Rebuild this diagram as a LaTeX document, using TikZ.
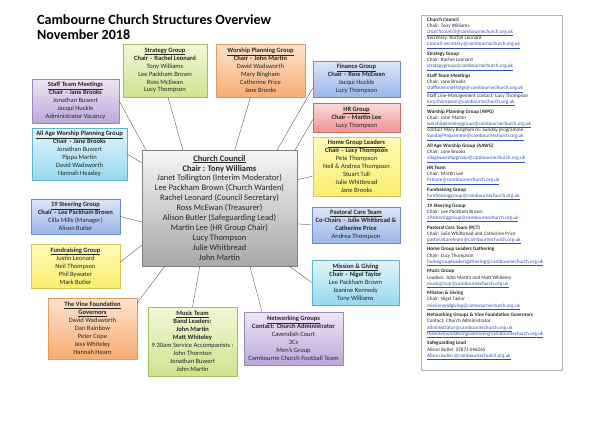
\documentclass[tikz,border=0pt]{standalone}
\usepackage{fontspec}
\setmainfont{Carlito}
\usetikzlibrary{shadows, calc}

% box colours (top / bottom / border)
\definecolor{greenT}{HTML}{F1F8D6}\definecolor{greenB}{HTML}{CFE38E}\definecolor{greenD}{HTML}{A3BE62}
\definecolor{orangeT}{HTML}{FDE3CD}\definecolor{orangeB}{HTML}{F8AC72}\definecolor{orangeD}{HTML}{E8975A}
\definecolor{purpleT}{HTML}{EEE6F6}\definecolor{purpleB}{HTML}{BCA8DA}\definecolor{purpleD}{HTML}{9A84BC}
\definecolor{cyanT}{HTML}{E2F5FB}\definecolor{cyanB}{HTML}{96D8EF}\definecolor{cyanD}{HTML}{62B3CC}
\definecolor{blueT}{HTML}{DCE6F8}\definecolor{blueB}{HTML}{9BB6EA}\definecolor{blueD}{HTML}{6C8DC6}
\definecolor{yellowT}{HTML}{FFFBB8}\definecolor{yellowB}{HTML}{FAEE6E}\definecolor{yellowD}{HTML}{D8C95A}
\definecolor{redT}{HTML}{F9DADA}\definecolor{redB}{HTML}{EF9494}\definecolor{redD}{HTML}{CC6A68}
\definecolor{greyT}{HTML}{F6F6F6}\definecolor{greyB}{HTML}{A8A8A8}\definecolor{greyD}{HTML}{7F7F7F}
\definecolor{inktext}{HTML}{262626}
\definecolor{maillink}{HTML}{2F4FB0}

\newcommand{\hd}[1]{\underline{\textbf{#1}}}
\newcommand{\mail}[1]{\textcolor{maillink}{\underline{#1}}}

\begin{document}
\begin{tikzpicture}[x=0.05cm, y=-0.05cm,
    boxsize/.style 2 args={minimum width=#1*0.05cm, minimum height=#2*0.05cm},
    box/.style={draw, line width=0.5pt, align=center, inner sep=1pt, text=inktext,
        font=\fontsize{9.3}{11.3}\selectfont,
        drop shadow={opacity=0.3, shadow xshift=0.9pt, shadow yshift=-0.9pt}},
    greenbox/.style={box, top color=greenT, bottom color=greenB, draw=greenD},
    orangebox/.style={box, top color=orangeT, bottom color=orangeB, draw=orangeD},
    purplebox/.style={box, top color=purpleT, bottom color=purpleB, draw=purpleD},
    cyanbox/.style={box, top color=cyanT, bottom color=cyanB, draw=cyanD},
    bluebox/.style={box, top color=blueT, bottom color=blueB, draw=blueD},
    yellowbox/.style={box, top color=yellowT, bottom color=yellowB, draw=yellowD},
    redbox/.style={box, top color=redT, bottom color=redB, draw=redD},
    greybox/.style={box, top color=greyT, bottom color=greyB, draw=greyD},
    link/.style={draw=black!75, line width=0.45pt}]
    \useasboundingbox (0,0) rectangle (594,420);
    % --- Title ---
    \node[anchor=north west, align=left, inner sep=0pt, font=\bfseries\fontsize{20}{22}\selectfont] (title) at (37,14)
        {Cambourne Church Structures Overview\\November 2018};
    % --- Centre: church council ---
    \node[greybox, boxsize={155}{116}, font=\fontsize{12}{14.2}\selectfont] (council) at (219.5,208)
        {\hd{Church Council}\\\textbf{Chair : Tony Williams}\\Janet Tollington (Interim Moderator)\\Lee Packham Brown (Church Warden)\\Rachel Leonard (Council Secretary)\\Ross McEwan (Treasurer)\\Alison Butler (Safeguarding Lead)\\Martin Lee (HR Group Chair)\\Lucy Thompson\\Julie Whitbread\\John Martin};
    % --- Top row ---
    \node[greenbox, boxsize={84}{53}] (strategy) at (165,70.5)
        {\hd{Strategy Group}\\\textbf{Chair -- Rachel Leonard}\\Tony Williams\\Lee Packham Brown\\Ross McEwan\\Lucy Thompson};
    \node[orangebox, boxsize={89}{53}] (worship) at (260.5,70.5)
        {\hd{Worship Planning Group}\\\textbf{Chair -- John Martin}\\David Wadsworth\\Mary Bingham\\Catherine Price\\Jane Brooks};
    % --- Left column ---
    \node[purplebox, boxsize={87}{44}] (staff) at (75.5,101)
        {\hd{Staff Team Meetings}\\\textbf{Chair -- Jane Brooks}\\Jonathan Buwert\\Jacqui Huckle\\Administrator Vacancy};
    \node[cyanbox, boxsize={95}{52}] (allage) at (79.5,154)
        {\hd{All Age Worship Planning Group}\\\textbf{Chair -- Jane Brooks}\\Jonathan Buwert\\Pippa Martin\\David Wadsworth\\Hannah Heasley};
    \node[bluebox, boxsize={89}{35}] (steering) at (75.5,216.5)
        {\hd{19 Steering Group}\\\textbf{Chair -- Lee Packham Brown}\\Cilla Mills (Manager)\\Alison Butler};
    \node[yellowbox, boxsize={89}{44}] (fund) at (75.5,266)
        {\hd{Fundraising Group}\\Justin Leonard\\Neil Thompson\\Phil Bywater\\Mark Butler};
    \node[orangebox, boxsize={89}{61}] (vine) at (92.5,328.5)
        {\hd{The Vine Foundation}\\\hd{Governors}\\David Wadsworth\\Dan Rainbow\\Peter Cope\\Jess Whiteley\\Hannah Hearn};
    % --- Bottom row ---
    \node[greenbox, boxsize={89}{69}] (music) at (192.5,341.5)
        {\hd{Music Team}\\\textbf{Band Leaders:}\\\textbf{John Martin}\\\textbf{Matt Whiteley}\\9.30am Service Accompanists :\\John Thornton\\Jonathan Buwert\\John Martin};
    \node[purplebox, boxsize={99}{53}] (network) at (293.5,338.5)
        {\hd{Networking Groups}\\\textbf{Contact: Church Administrator}\\Cavendish Court\\3Cs\\Men's Group\\Cambourne Church Football Team};
    % --- Right column ---
    \node[bluebox, boxsize={87}{36}] (finance) at (356.5,79)
        {\hd{Finance Group}\\\textbf{Chair -- Ross McEwan}\\Jacqui Huckle\\Lucy Thompson};
    \node[redbox, boxsize={87}{29}] (hr) at (356.5,117.5)
        {\hd{HR Group}\\\textbf{Chair -- Martin Lee}\\Lucy Thompson};
    \node[yellowbox, boxsize={87}{59}] (home) at (356.5,166.5)
        {\hd{Home Group Leaders}\\\textbf{Chair -- Lucy Thompson}\\Pete Thompson\\Neil \& Andrea Thompson\\Stuart Tull\\Julie Whitbread\\Jane Brooks};
    \node[bluebox, boxsize={88}{36}] (pastoral) at (356,225)
        {\hd{Pastoral Care Team}\\\textbf{Co-Chairs -- Julie Whitbread \&}\\\textbf{Catherine Price}\\Andrea Thompson};
    \node[cyanbox, boxsize={87}{45}] (mission) at (355.5,282.5)
        {\hd{Mission \& Giving}\\\textbf{Chair -- Nigel Taylor}\\Lee Packham Brown\\Jeanine Kennedy\\Tony Williams};
    % --- Links to the council ---
    \draw[link] (staff.east) -- ($(council.north west)+(4,0)$);
    \draw[link] ($(strategy.south)+(3,0)$) -- ($(council.north west)+(41,0)$);
    \draw[link] ($(worship.south)+(-10,0)$) -- ($(council.north west)+(93,0)$);
    \draw[link] ($(finance.west)+(0,9)$) -- ($(council.north east)+(-20,0)$);
    \draw[link] ($(hr.west)+(0,2)$) -- ($(council.north east)+(-2,0)$);
    \draw[link] ($(home.west)+(0,9.5)$) -- ($(council.north east)+(0,30)$);
    \draw[link] (pastoral.west) -- ($(council.north east)+(0,74)$);
    \draw[link] (mission.west) -- ($(council.south east)+(-8,0)$);
    \draw[link] ($(network.north)+(-31.5,0)$) -- ($(council.south west)+(108,0)$);
    \draw[link] (music.north) -- ($(council.south west)+(58,0)$);
    \draw[link] ($(vine.north east)+(0,5)$) -- ($(council.south west)+(23,0)$);
    \draw[link] ($(fund.east)+(0,-4)$) -- ($(council.south west)+(0,-21)$);
    \draw[link] (steering.east) -- ($(council.north west)+(0,72)$);
    \draw[link] (allage.east) -- ($(council.north west)+(0,13)$);
    % --- Right: contact list ---
    \draw[black!30, line width=0.4pt] (421,15) rectangle (562,370);
    \node[anchor=north west, align=left, inner sep=0pt, text=inktext, font=\fontsize{7.3}{8.8}\selectfont] (contacts) at (427,17.5)
        {\textbf{Church Council}\\Chair: Tony Williams\\\mail{churchcouncil@cambournechurch.org.uk}\\Secretary: Rachel Leonard\\\mail{Council.secretary@cambournechurch.org.uk}\\[4.8pt]
         \textbf{Strategy Group}\\Chair: Rachel Leonard\\\mail{strategygroup@cambournechurch.org.uk}\\[4.8pt]
         \textbf{Staff Team Meetings}\\Chair: Jane Brooks\\\mail{staffteammeetings@cambournechurch.org.uk}\\[2pt]
         Staff Line-Management contact: Lucy Thompson\\\mail{lucy.thompson@cambournechurch.org.uk}\\[4.8pt]
         \textbf{Worship Planning Group (WPG)}\\Chair: John Martin\\\mail{worshipplanninggroup@cambournechurch.org.uk}\\contact Mary Bingham re: Sunday programme\\\mail{SundayProgramme@cambournechurch.org.uk}\\[4.8pt]
         \textbf{All Age Worship Group (AAWG)}\\Chair: Jane Brooks\\\mail{allageworshipgroup@cambournechurch.org.uk}\\[4.8pt]
         \textbf{HR Team}\\Chair: Martin Lee\\\mail{hrteam@cambournechurch.org.uk}\\[4.8pt]
         \textbf{Fundraising Group}\\\mail{fundraisinggroup@cambournechurch.org.uk}\\[4.8pt]
         \textbf{19 Steering Group}\\Chair: Lee Packham Brown\\\mail{19steeringgroup@cambournechurch.org.uk}\\[4.8pt]
         \textbf{Pastoral Care Team (PCT)}\\Chair: Julie Whitbread and Catherine Price\\\mail{pastoralcareteam@cambournechurch.org.uk}\\[4.8pt]
         \textbf{Home Group Leaders Gathering}\\Chair: Lucy Thompson\\\mail{homegroupleadersgathering@cambournechurch.org.uk}\\[4.8pt]
         \textbf{Music Group}\\Leaders: John Martin and Matt Whiteley\\\mail{musicgroup@cambournechurch.org.uk}\\[4.8pt]
         \textbf{Mission \& Giving}\\Chair: Nigel Taylor\\\mail{missionandgiving@cambournechurch.org.uk}\\[4.8pt]
         \textbf{Networking Groups \& Vine Foundation Governors}\\Contact: Church Administrator\\\mail{administrator@cambournechurch.org.uk}\\\mail{thevinefoundationgovernors@cambournechurch.org.uk}\\[4.8pt]
         \textbf{Safeguarding Lead}\\Alison Butler, 07871 096265\\\mail{Alison.butler@cambournechurch.org.uk}};
\end{tikzpicture}
\end{document}
